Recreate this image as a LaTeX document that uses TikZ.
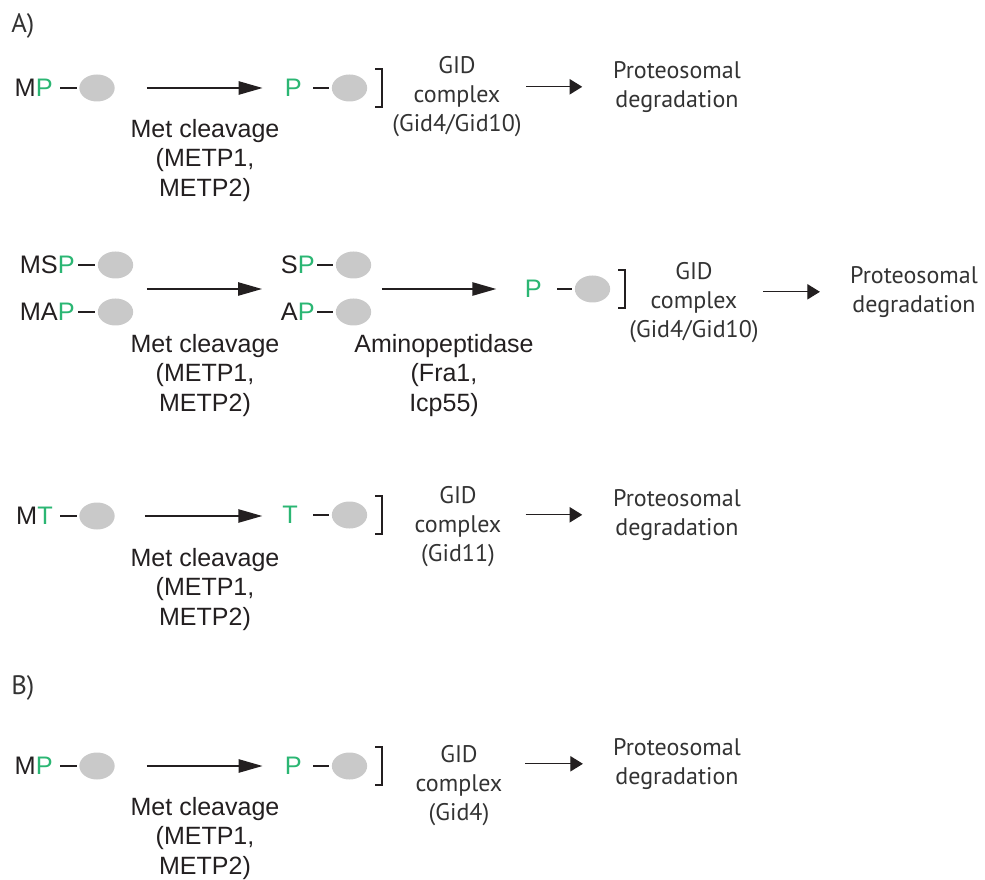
\documentclass[tikz,border=0pt]{standalone}
\usepackage{xcolor}
\usepackage{fontspec}
\usepackage{tikz}
\usetikzlibrary{arrows.meta,positioning,shapes.geometric}
\newfontfamily\helv{Liberation Sans}
\newfontfamily\myr{PT Sans}
\definecolor{pgreen}{RGB}{43,182,115}
\definecolor{blobgray}{RGB}{201,201,201}
\definecolor{ink}{RGB}{35,31,32}
\definecolor{gidgray}{RGB}{51,51,51}
\newcommand\nt[1]{\textcolor{pgreen}{#1}}
\newcommand\gidbracket[1]{\draw[brk] ([xshift=6pt,yshift=13.9pt]#1.east) -| ([xshift=11.25pt,yshift=-13.9pt]#1.east) -- ([xshift=6pt,yshift=-13.9pt]#1.east);}
\tikzset{
  res/.style={font=\helv\fontsize{19pt}{22.5pt}\selectfont, inner sep=0pt, anchor=east, text=ink},
  blob/.style={ellipse, fill=blobgray, minimum width=26.5pt, minimum height=20.25pt, inner sep=0pt},
  enz/.style={font=\helv\fontsize{18.75pt}{22pt}\selectfont, align=center, inner sep=0pt, anchor=north, text=ink},
  cplx/.style={font=\myr\fontsize{18pt}{21.75pt}\selectfont, align=center, inner sep=0pt, anchor=north, text=gidgray},
  panel/.style={font=\myr\fontsize{20pt}{22pt}\selectfont, inner sep=0pt, anchor=base west, text=gidgray},
  bond/.style={draw=ink, line width=2pt, shorten <=#1, shorten >=1.75pt}, bond/.default=5.25pt,
  cut/.style={draw=ink, -{Triangle[length=18pt,width=10pt]}, line width=1.2pt},
  fate/.style={draw=ink, -{Triangle[length=9.5pt,width=11.5pt]}, line width=1pt},
  brk/.style={draw=ink, line width=1.5pt}
}
\begin{document}
\begin{tikzpicture}[x=0.75pt,y=-0.75pt]
\useasboundingbox (0,0) rectangle (985,880);
% panel A, first row
\node[panel] (panA) at (11,33) {A)};
\node[res] (m1) at (53,88) {M\nt{P}};
\node[blob] (b1) at (97,88) {};
\node[res] (n1) at (302,88) {\nt{P}};
\node[blob] (nb1) at (349.5,88) {};
\node[enz] (met1) at (205,119) {Met cleavage\\(METP1,\\METP2)};
\node[cplx] (gid1) at (457,56) {GID\\complex\\(Gid4/Gid10)};
\node[cplx] (deg1) at (677,61) {Proteosomal\\degradation};
\draw[bond] (m1) -- (b1);
\draw[bond=8.25pt] (n1) -- (nb1);
\gidbracket{nb1}
\draw[cut, shorten <=24pt, shorten >=16.5pt] (b1.east) -- (b1.east -| n1.west);
\draw[fate, shorten <=3.4pt, shorten >=23pt] (gid1.east |- deg1.west) -- (deg1.west);
% second row
\node[res] (ms2) at (75,265) {MS\nt{P}};
\node[blob] (bs2) at (115.5,265) {};
\node[res] (ma2) at (75,312) {MA\nt{P}};
\node[blob] (ba2) at (115.5,312) {};
\node[res] (s2) at (315,265) {S\nt{P}};
\node[blob] (sbs2) at (353.5,265) {};
\node[res] (a2) at (315,312) {A\nt{P}};
\node[blob] (sba2) at (353.5,312) {};
\node[res] (n2) at (542,289) {\nt{P}};
\node[blob] (nb2) at (592.5,289) {};
\node[enz] (met2) at (205,334) {Met cleavage\\(METP1,\\METP2)};
\node[enz] (amp2) at (444,334) {Aminopeptidase\\(Fra1,\\Icp55)};
\node[cplx] (gid2) at (694,262) {GID\\complex\\(Gid4/Gid10)};
\node[cplx] (deg2) at (914,266) {Proteosomal\\degradation};
\draw[bond=2.25pt] (ms2) -- (bs2);
\draw[bond=2.25pt] (ma2) -- (ba2);
\draw[bond=1.5pt] (s2) -- (sbs2);
\draw[bond=1.5pt] (a2) -- (sba2);
\draw[bond=11.25pt] (n2) -- (nb2);
\gidbracket{nb2}
\draw[cut, shorten <=10pt, shorten >=14pt] (bs2.east |- n2) -- (s2.west |- n2);
\draw[cut, shorten <=7.9pt, shorten >=21.2pt] (sbs2.east |- n2) -- (n2.west);
\draw[fate, shorten <=3.4pt, shorten >=22.5pt] (gid2.east |- deg2.west) -- (deg2.west);
% third row
\node[res] (m3) at (53,516) {M\nt{T}};
\node[blob] (b3) at (97,516) {};
\node[res] (n3) at (298,515) {\nt{T}};
\node[blob] (nb3) at (349.5,515) {};
\node[enz] (met3) at (205,548) {Met cleavage\\(METP1,\\METP2)};
\node[cplx] (gid3) at (458,486) {GID\\complex\\(Gid11)};
\node[cplx] (deg3) at (677,489) {Proteosomal\\degradation};
\draw[bond] (m3) -- (b3);
\draw[bond=11.25pt] (n3) -- (nb3);
\gidbracket{nb3}
\draw[cut, shorten <=22.5pt, shorten >=14.8pt] (b3.east) -- (b3.east -| n3.west);
\draw[fate, shorten <=18pt, shorten >=23pt] (gid3.east |- deg3.west) -- (deg3.west);
% panel B
\node[panel] (panB) at (11,694) {B)};
\node[res] (m4) at (53,766) {M\nt{P}};
\node[blob] (b4) at (97,766) {};
\node[res] (n4) at (302,766) {\nt{P}};
\node[blob] (nb4) at (349.5,766) {};
\node[enz] (met4) at (205,797) {Met cleavage\\(METP1,\\METP2)};
\node[cplx] (gid4) at (459,745) {GID\\complex\\(Gid4)};
\node[cplx] (deg4) at (677,738) {Proteosomal\\degradation};
\draw[bond] (m4) -- (b4);
\draw[bond=8.25pt] (n4) -- (nb4);
\gidbracket{nb4}
\draw[cut, shorten <=24pt, shorten >=16.5pt] (b4.east) -- (b4.east -| n4.west);
\draw[fate, shorten <=17pt, shorten >=22.5pt] (gid4.east |- deg4.west) -- (deg4.west);
\end{tikzpicture}
\end{document}
